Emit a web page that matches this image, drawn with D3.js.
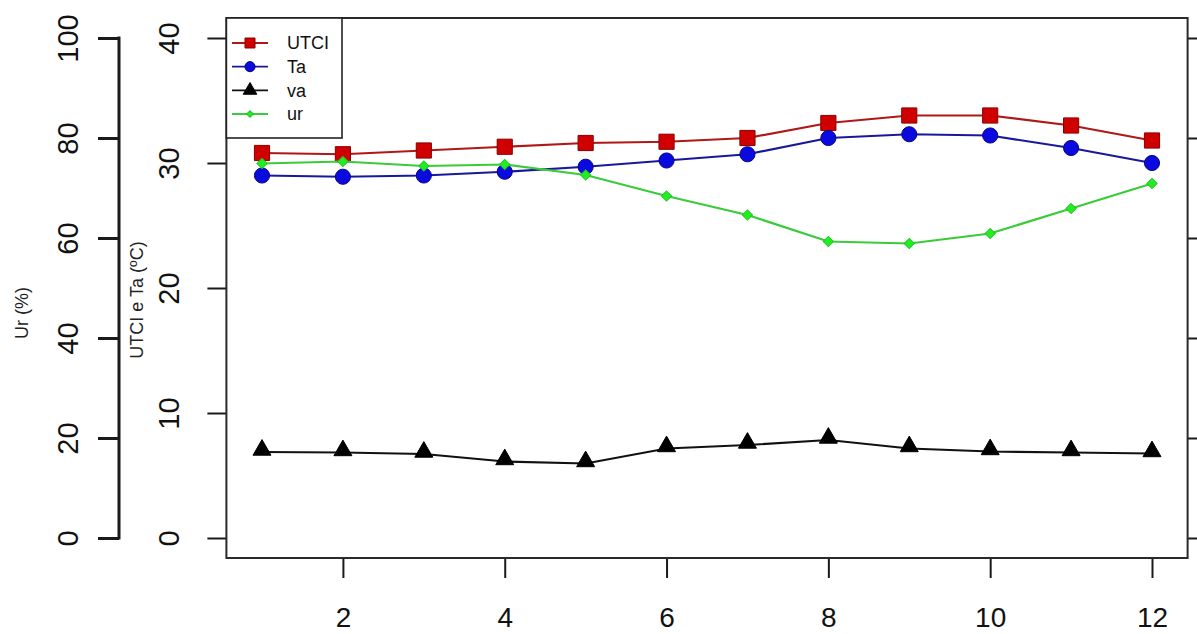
<!DOCTYPE html>
<html>
<head>
<meta charset="utf-8">
<script src="https://cdn.jsdelivr.net/npm/d3@7/dist/d3.min.js"></script>
<style>
  html, body { margin: 0; padding: 0; background: #fff; }
  svg { display: block; font-family: "Liberation Sans", Arial, sans-serif; }
</style>
</head>
<body>
<svg id="chart" width="1197" height="634"></svg>
<script>
// ---- data ----
const months = [1, 2, 3, 4, 5, 6, 7, 8, 9, 10, 11, 12];
const utci = [30.8, 30.7, 31.0, 31.3, 31.6, 31.7, 32.0, 33.2, 33.8, 33.8, 33.0, 31.8];
const ta   = [29.0, 28.9, 29.0, 29.3, 29.7, 30.2, 30.7, 32.0, 32.3, 32.2, 31.2, 30.0];
const va   = [1.72, 1.71, 1.68, 1.53, 1.49, 1.79, 1.86, 1.96, 1.79, 1.73, 1.71, 1.69];
const ur   = [74.9, 75.3, 74.4, 74.7, 72.6, 68.4, 64.6, 59.3, 58.9, 60.9, 65.9, 70.9];
const xTicks = [2, 4, 6, 8, 10, 12];
const tempTicks = [0, 10, 20, 30, 40];
const urTicks = [0, 20, 40, 60, 80, 100];
const vaTicks = [0, 2, 4, 6, 8, 10];
const legendLabels = ["UTCI", "Ta", "va", "ur"];
const yTitleLeft = "Ur (%)";
const yTitleInner = "UTCI e Ta (ºC)";

// ---- layout ----
const L = 226.4, R = 1187.6, T = 18, B = 558;
const svg = d3.select("#chart");

const pad = (a, b) => { const e = (b - a) * 0.04; return [a - e, b + e]; };
const x = d3.scaleLinear().domain(pad(1, 12)).range([L, R]);
const yT = d3.scaleLinear().domain(pad(0, 40)).range([B, T]);
const yU = d3.scaleLinear().domain(pad(0, 100)).range([B, T]);
const yV = d3.scaleLinear().domain(pad(0, 10)).range([B, T]);

const axisColor = "#1a1a1a";
const tickFont = 29;

function styleAxis(g, sw) {
  g.selectAll("path,line").attr("stroke", axisColor).attr("stroke-width", sw);
  g.selectAll("text").attr("fill", "#111").attr("font-size", tickFont)
    .attr("font-family", "Liberation Sans, Arial, sans-serif");
}

// bottom axis
const gx = svg.append("g").attr("transform", `translate(0,${B})`)
  .call(d3.axisBottom(x).tickValues(xTicks).tickSize(20).tickFormat(d3.format("d")));
gx.select(".domain").remove();
styleAxis(gx, 2);
gx.selectAll("text").attr("font-size", 28).attr("y", 59).attr("dy", "0.35em");

// inner left axis (UTCI / Ta)
const gi = svg.append("g").attr("transform", `translate(${L},0)`)
  .call(d3.axisLeft(yT).tickValues(tempTicks).tickSize(19).tickFormat(d3.format("d")));
gi.select(".domain").remove();
styleAxis(gi, 2);
gi.selectAll("text").attr("x", null).attr("dy", "0.35em").attr("text-anchor", "middle")
  .attr("transform", `translate(${-(L - 169)},0) rotate(-90)`);

// outer left axis (Ur)
const uX = 119;
const gu = svg.append("g").attr("transform", `translate(${uX},0)`)
  .call(d3.axisLeft(yU).tickValues(urTicks).tickSize(21).tickFormat(d3.format("d")));
gu.select(".domain").remove();
styleAxis(gu, 3);
gu.append("line").attr("x1", 0).attr("x2", 0)
  .attr("y1", yU(urTicks[0]) + 1.5).attr("y2", yU(urTicks[urTicks.length - 1]) - 1.5)
  .attr("stroke", axisColor).attr("stroke-width", 3);
gu.selectAll("text").attr("x", null).attr("dy", "0.35em").attr("text-anchor", "middle")
  .attr("transform", `translate(${-(uX - 67.5)},0) rotate(-90)`);

// right axis (va), labels fall outside the frame
const gr = svg.append("g").attr("transform", `translate(${R},0)`)
  .call(d3.axisRight(yV).tickValues(vaTicks).tickSize(14).tickFormat(""));
gr.select(".domain").remove();
styleAxis(gr, 2);

// axis titles
svg.append("text").attr("transform", `translate(22,313) rotate(-90)`)
  .attr("text-anchor", "middle").attr("dy", "0.35em").attr("font-size", 18).attr("fill", "#222")
  .text(yTitleLeft);
svg.append("text").attr("transform", `translate(137,300) rotate(-90)`)
  .attr("text-anchor", "middle").attr("dy", "0.35em").attr("font-size", 18).attr("fill", "#222")
  .text(yTitleInner);

// plot box
svg.append("rect").attr("x", L).attr("y", T).attr("width", R - L).attr("height", B - T)
  .attr("fill", "none").attr("stroke", "#2a2a2a").attr("stroke-width", 2);

// series
const series = [
  { name: "UTCI", vals: utci, y: yT, line: "#b01818", fill: "#d00000", stroke: "#8a0000", shape: d3.symbolSquare, rot: 0, size: 230, lsize: 100 },
  { name: "Ta",   vals: ta,   y: yT, line: "#18189a", fill: "#0a0ae0", stroke: "#06067a", shape: d3.symbolCircle, rot: 0, size: 180, lsize: 80 },
  { name: "va",   vals: va,   y: yV, line: "#111111", fill: "#000000", stroke: "#000000", shape: d3.symbolTriangle, rot: 0, size: 140, lsize: 80 },
  { name: "ur",   vals: ur,   y: yU, line: "#3acb3a", fill: "#20ee20", stroke: "#22c822", shape: d3.symbolSquare, rot: 45, size: 52, lsize: 22 }
];

series.forEach(s => {
  const line = d3.line().x((d, i) => x(months[i])).y(d => s.y(d));
  svg.append("path").datum(s.vals).attr("d", line)
    .attr("fill", "none").attr("stroke", s.line).attr("stroke-width", 2.2);
  svg.append("g").selectAll("path").data(s.vals).join("path")
    .attr("transform", (d, i) => {
      let yy = s.y(d);
      if (s.shape === d3.symbolTriangle) yy -= 2;
      return `translate(${x(months[i])},${yy}) rotate(${s.rot})`;
    })
    .attr("d", d3.symbol().type(s.shape).size(s.size))
    .attr("fill", s.fill).attr("stroke", s.stroke).attr("stroke-width", 1);
});

// legend
const lg = svg.append("g");
lg.append("rect").attr("x", L).attr("y", T).attr("width", 342 - L).attr("height", 138 - T)
  .attr("fill", "#fff").attr("stroke", "#222").attr("stroke-width", 1.6);
const rowY = d3.scalePoint().domain(legendLabels).range([43, 114]);
series.forEach((s, i) => {
  const yy = rowY(legendLabels[i]);
  lg.append("line").attr("x1", 232).attr("x2", 268).attr("y1", yy).attr("y2", yy)
    .attr("stroke", s.line).attr("stroke-width", 1.8);
  lg.append("path").attr("transform", `translate(250,${yy}) rotate(${s.rot})`)
    .attr("d", d3.symbol().type(s.shape).size(s.lsize))
    .attr("fill", s.fill).attr("stroke", s.stroke).attr("stroke-width", 1);
  lg.append("text").attr("x", 287).attr("y", yy).attr("dy", "0.35em")
    .attr("font-size", 18).attr("fill", "#111").text(legendLabels[i]);
});
</script>
</body>
</html>
